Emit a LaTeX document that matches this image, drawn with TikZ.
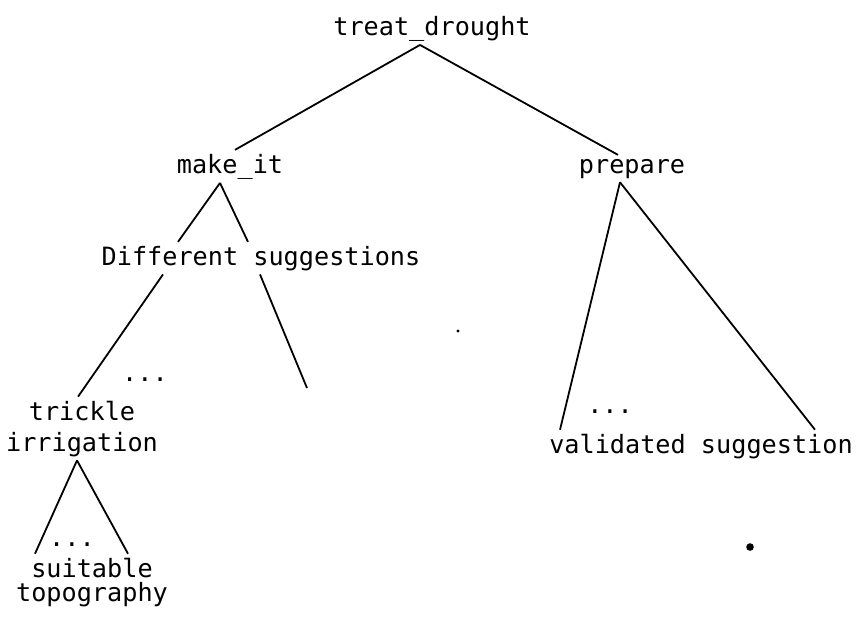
\documentclass[tikz,border=0pt]{standalone}
\usepackage{fontspec}
\setmonofont{DejaVu Sans Mono}
\usepackage{tikz}
\usetikzlibrary{positioning}

\begin{document}
\begin{tikzpicture}[x=0.5pt,y=-0.5pt,
  font=\ttfamily\fontsize{12.6}{15.5}\selectfont,
  goal/.style={inner sep=0pt,outer sep=2pt,anchor=base},
  twoline/.style={goal,align=center},
  gap/.style={inner sep=0pt,anchor=base},
  branch/.style={line width=0.9pt}]
\useasboundingbox (0,0) rectangle (860,616);
% --- goal tree: treat_drought and its subgoals ---
\node[goal] (root)   at (432,35)  {treat\_drought};
\node[goal] (makeit) at (230,173) {make\_it};
\node[goal] (prep)   at (632,173) {prepare};
\node[goal] (diff)   at (261,265) {Different suggestions};
\node[twoline] (trick) at (82,451) {trickle\\irrigation};
\node[twoline] (suit)  at (92,601) {suitable\\[-3.5pt]topography};
\node[goal] (valid)  at (701,453) {validated suggestion};
% --- elided siblings ---
\node[gap] (dotsa) at (145,381) {...};
\node[gap] (dotsb) at (72,546)  {...};
\node[gap] (dotsc) at (610,413) {...};
\coordinate (stub) at (307,388);
% --- branches ---
\draw[branch] ([xshift=-6pt]root.south) -- ([xshift=2.5pt]makeit.north);
\draw[branch] ([xshift=-6pt]root.south) -- ([xshift=-7pt]prep.north);
\draw[branch] ([xshift=-5pt]makeit.south) -- ([xshift=-41.5pt]diff.north);
\draw[branch] ([xshift=-5pt]makeit.south) -- ([xshift=-6.5pt]diff.north);
\draw[branch] ([xshift=-49pt]diff.south) -- ([xshift=-2pt]trick.north);
\draw[branch] ([xshift=-0.5pt]diff.south) -- (stub);
\draw[branch] ([xshift=-6pt]prep.south) -- ([xshift=-70.5pt]valid.north);
\draw[branch] ([xshift=-6pt]prep.south) -- ([xshift=57pt]valid.north);
\draw[branch] ([xshift=-2.5pt]trick.south) -- ([xshift=-28.5pt]suit.north);
\draw[branch] ([xshift=-2.5pt]trick.south) -- ([xshift=18pt]suit.north);
% --- stray marks ---
\fill (458,331) circle (0.8pt);
\fill (750,547) circle (1.9pt);
\end{tikzpicture}
\end{document}
